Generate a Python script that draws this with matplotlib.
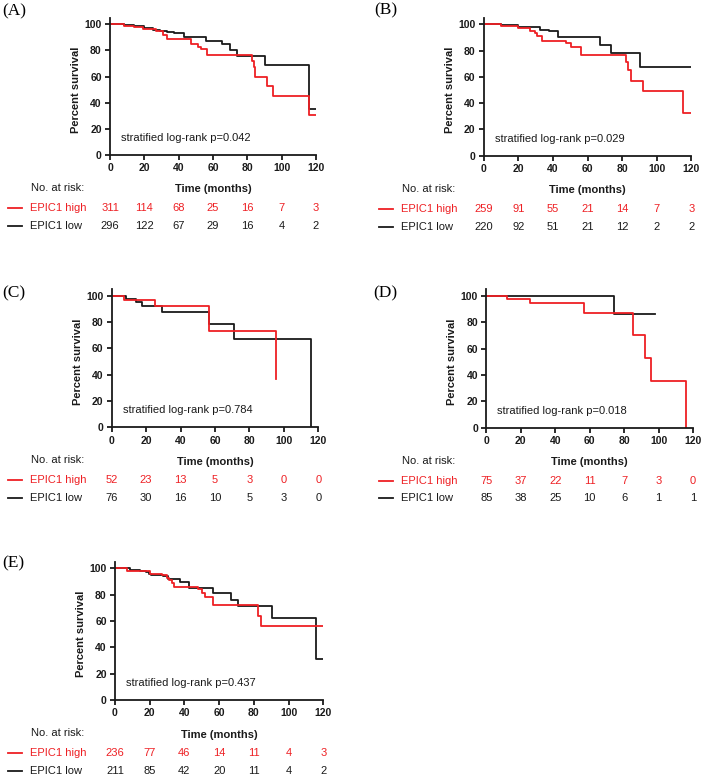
import matplotlib
matplotlib.use("Agg")
import matplotlib.pyplot as plt
from matplotlib.lines import Line2D
from matplotlib.transforms import blended_transform_factory

plt.rcParams['font.family'] = ['Liberation Sans', 'DejaVu Sans']

W, H = 706, 780
RED = '#ee2024'
BLK = '#1a1a1a'

ticks = [0, 20, 40, 60, 80, 100, 120]

# survival curves (months, percent survival)
A_high_t = [0, 8, 14, 19, 27, 31, 33, 47, 51, 53, 56.5, 82.6, 83.6, 84.6, 91.4, 95, 115.7, 120]
A_high_s = [100, 99, 98, 96.5, 95, 92, 88.5, 85, 83, 81, 76.5, 72, 67, 60, 53, 45.5, 30.5, 30.5]
A_low_t = [0, 8, 14, 20, 25, 29, 33, 37, 43, 56, 65, 70, 74, 90.4, 115.7, 120]
A_low_s = [100, 99.5, 98.5, 97, 96, 95, 94, 93, 90, 87, 85, 80, 76, 69, 35, 35]

B_high_t = [0, 10, 20, 26.6, 29.5, 31, 33.7, 47.8, 50.7, 56, 82.5, 83.4, 85, 92, 115.2, 120]
B_high_s = [100, 99, 97, 95, 93, 91, 87.6, 86, 83, 77, 71, 65, 57, 49, 32.5, 32.5]
B_low_t = [0, 10, 20, 32.4, 38, 43, 67, 73.4, 90.6, 120]
B_low_s = [100, 99.5, 98, 96, 95, 90, 84, 78.4, 67.3, 67.3]

C_high_t = [0, 7.4, 25, 56.7, 95.4]
C_high_s = [100, 97, 92, 73.7, 37]
C_low_t = [0, 8.3, 14.1, 17.4, 29, 56.7, 71.2, 116]
C_low_s = [100, 97.5, 95.5, 92.3, 88, 78.5, 67, 0]

D_high_t = [0, 12.2, 25.2, 56.7, 85.2, 92.3, 95.4, 115.7]
D_high_s = [100, 98, 94.7, 87.3, 70, 52.7, 35, 0]
D_low_t = [0, 74.1, 97.7]
D_low_s = [100, 86, 86]

E_high_t = [0, 6.7, 20.2, 27, 29.8, 31.3, 32.6, 34, 48, 50, 52, 56.6, 82.6, 84, 120]
E_high_s = [100, 98, 96, 95, 93, 91, 89, 86, 84, 81.5, 78.5, 72, 64, 56, 56]
E_low_t = [0, 8.6, 14.4, 18, 19.6, 21, 27.8, 30.7, 32.6, 37.4, 42.8, 56.6, 66.8, 70.7, 90.6, 115.6, 120]
E_low_s = [100, 99, 98, 97, 96, 95, 94, 92, 91.5, 89.5, 85, 81, 76, 71, 62.3, 31, 31]

# numbers at risk
A_risk_high = [311, 114, 68, 25, 16, 7, 3]
A_risk_low = [296, 122, 67, 29, 16, 4, 2]
B_risk_high = [259, 91, 55, 21, 14, 7, 3]
B_risk_low = [220, 92, 51, 21, 12, 2, 2]
C_risk_high = [52, 23, 13, 5, 3, 0, 0]
C_risk_low = [76, 30, 16, 10, 5, 3, 0]
D_risk_high = [75, 37, 22, 11, 7, 3, 0]
D_risk_low = [85, 38, 25, 10, 6, 1, 1]
E_risk_high = [236, 77, 46, 14, 11, 4, 3]
E_risk_low = [211, 85, 42, 20, 11, 4, 2]

p_values = ['0.042', '0.029', '0.784', '0.018', '0.437']

fig = plt.figure(figsize=(W / 100, H / 100), dpi=100)


def panel(letter, lab_xy, x0, x120, y0, y100, hi_t, hi_s, lo_t, lo_s,
          risk_hi, risk_lo, pval, text_x):
    ppu = (y0 - y100) / 100.0
    top = y0 - 105 * ppu
    wpx = x120 - x0
    hpx = y0 - top
    ax = fig.add_axes([x0 / W, 1 - y0 / H, wpx / W, hpx / H])
    ax.step(lo_t, lo_s, where='post', color=BLK, lw=1.3)
    ax.step(hi_t, hi_s, where='post', color=RED, lw=1.3)
    ax.set_xlim(0, 120)
    ax.set_ylim(0, 105)
    ax.set_xticks(ticks)
    ax.set_yticks([0, 20, 40, 60, 80, 100])
    for s in ['top', 'right']:
        ax.spines[s].set_visible(False)
    for s in ['left', 'bottom']:
        ax.spines[s].set_linewidth(1.3)
        ax.spines[s].set_color(BLK)
    ax.tick_params(width=1.3, length=3.5, pad=2.5, labelsize=7.5, colors=BLK)
    for lb in ax.get_xticklabels() + ax.get_yticklabels():
        lb.set_fontweight('bold')
    ax.text(-34 / wpx, (100 * ppu / 2 + 5 * ppu) / hpx * 0 + 0.5 * 100 / 105 + 0.0,
            'Percent survival', transform=ax.transAxes, rotation=90,
            ha='center', va='center', fontsize=8, fontweight='bold', color=BLK)
    ax.text(0.5, -34.5 / hpx, 'Time (months)', transform=ax.transAxes,
            ha='center', va='center', fontsize=8, fontweight='bold', color=BLK)
    ax.text(6.3, 12.8, 'stratified log-rank p=' + pval, ha='left', va='center',
            fontsize=8, color=BLK)

    # panel letter
    fig.text(lab_xy[0] / W, 1 - lab_xy[1] / H, '(' + letter + ')',
             family='Liberation Serif', fontsize=12.5, ha='left', va='center')

    # numbers at risk table
    tr = blended_transform_factory(ax.transData, fig.transFigure)
    y_hdr = 1 - (y0 + 33) / H
    y_hi = 1 - (y0 + 53) / H
    y_lo = 1 - (y0 + 71) / H
    fig.text(text_x / W, y_hdr, 'No. at risk:', fontsize=8, ha='left', va='center',
             color=BLK)
    fig.add_artist(Line2D([(text_x - 23) / W, (text_x - 9) / W], [y_hi, y_hi],
                          color=RED, lw=1.3, transform=fig.transFigure))
    fig.add_artist(Line2D([(text_x - 23) / W, (text_x - 9) / W], [y_lo, y_lo],
                          color=BLK, lw=1.3, transform=fig.transFigure))
    fig.text((text_x - 1) / W, y_hi, 'EPIC1 high', fontsize=8, ha='left',
             va='center', color=RED)
    fig.text((text_x - 1) / W, y_lo, 'EPIC1 low', fontsize=8, ha='left',
             va='center', color=BLK)
    for t, nh, nl in zip(ticks, risk_hi, risk_lo):
        ax.text(t, y_hi, str(nh), transform=tr, fontsize=8, ha='center',
                va='center', color=RED, clip_on=False)
        ax.text(t, y_lo, str(nl), transform=tr, fontsize=8, ha='center',
                va='center', color=BLK, clip_on=False)
    return ax


panel('A', (2, 11), 110, 316, 155, 24.3, A_high_t, A_high_s, A_low_t, A_low_s,
      A_risk_high, A_risk_low, p_values[0], 31)
panel('B', (374, 10), 483.7, 691.3, 155.7, 24.3, B_high_t, B_high_s, B_low_t, B_low_s,
      B_risk_high, B_risk_low, p_values[1], 402)
panel('C', (2, 293), 111.7, 318.3, 427.2, 296, C_high_t, C_high_s, C_low_t, C_low_s,
      C_risk_high, C_risk_low, p_values[2], 31)
panel('D', (373, 293), 486.3, 693, 427.5, 296, D_high_t, D_high_s, D_low_t, D_low_s,
      D_risk_high, D_risk_low, p_values[3], 402)
panel('E', (2, 563), 115, 323.3, 700, 568.3, E_high_t, E_high_s, E_low_t, E_low_s,
      E_risk_high, E_risk_low, p_values[4], 31)

fig.savefig('out.png', dpi=100)
